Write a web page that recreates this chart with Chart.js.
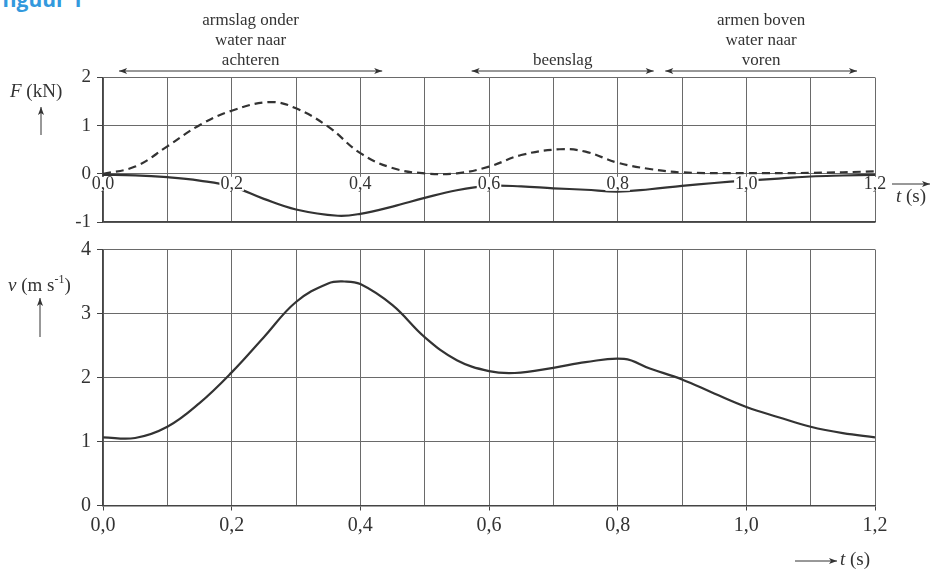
<!DOCTYPE html>
<html>
<head>
<meta charset="utf-8">
<script src="https://cdn.jsdelivr.net/npm/chart.js@4"></script>
<style>
  html, body { margin: 0; padding: 0; background: #fff; }
  body { width: 933px; height: 571px; position: relative; overflow: hidden; }
  canvas { position: absolute; left: 0; top: 0; }
  #fig { position: absolute; left: 2px; top: -15px; font: bold 21px "Open Sans", sans-serif; color: #3399dd; }
</style>
</head>
<body>
<div id="fig">figuur 1</div>
<canvas id="cForce" width="933" height="571"></canvas>
<canvas id="cSpeed" width="933" height="571"></canvas>
<script>
// ---- data ----
const forceUpperT = [0, 0.05, 0.1, 0.15, 0.2, 0.26, 0.3, 0.35, 0.4, 0.45, 0.5, 0.55, 0.6, 0.65, 0.71, 0.75, 0.8, 0.85, 0.9, 1.0, 1.1, 1.2];
const forceUpperV = [0, 0.15, 0.57, 1.01, 1.31, 1.49, 1.36, 0.98, 0.43, 0.12, 0.01, 0.01, 0.15, 0.39, 0.51, 0.46, 0.23, 0.10, 0.03, 0.015, 0.02, 0.05];

const forceLowerT = [0, 0.05, 0.1, 0.15, 0.2, 0.25, 0.3, 0.365, 0.4, 0.45, 0.5, 0.55, 0.6, 0.65, 0.7, 0.75, 0.8, 0.85, 0.9, 0.95, 1.0, 1.05, 1.1, 1.15, 1.2];
const forceLowerV = [-0.02, -0.03, -0.07, -0.14, -0.26, -0.52, -0.74, -0.87, -0.83, -0.68, -0.5, -0.34, -0.25, -0.26, -0.3, -0.33, -0.37, -0.32, -0.25, -0.19, -0.14, -0.1, -0.055, -0.035, -0.02];

const speedT = [0, 0.05, 0.1, 0.15, 0.2, 0.25, 0.3, 0.35, 0.375, 0.4, 0.45, 0.5, 0.55, 0.6, 0.64, 0.7, 0.75, 0.81, 0.85, 0.9, 0.95, 1.0, 1.05, 1.1, 1.15, 1.2];
const speedV = [1.065, 1.055, 1.23, 1.6, 2.08, 2.63, 3.18, 3.47, 3.5, 3.46, 3.13, 2.63, 2.27, 2.1, 2.07, 2.15, 2.24, 2.29, 2.14, 1.97, 1.75, 1.54, 1.38, 1.23, 1.13, 1.065];

const xTickValues = [0, 0.2, 0.4, 0.6, 0.8, 1.0, 1.2];
const xTickLabels = ["0,0", "0,2", "0,4", "0,6", "0,8", "1,0", "1,2"];

const phaseLabels = [["armslag onder", "water naar", "achteren"], ["beenslag"], ["armen boven", "water naar", "voren"]];
const phaseStart = [0.025, 0.573, 0.874];
const phaseEnd = [0.434, 0.856, 1.172];

// ---- helpers ----
const INK = "#333";
const GRID = "#6a6a6a";
const SERIF = '"Liberation Serif", "DejaVu Serif", serif';

function toPoints(ts, vs) {
  return ts.map((t, i) => ({ x: t, y: vs[i] }));
}

function arrowHead(ctx, x, y, angle, size) {
  ctx.save();
  ctx.translate(x, y);
  ctx.rotate(angle);
  ctx.beginPath();
  ctx.moveTo(0, 0);
  ctx.lineTo(-size, -size * 0.38);
  ctx.lineTo(-size * 0.75, 0);
  ctx.lineTo(-size, size * 0.38);
  ctx.closePath();
  ctx.fill();
  ctx.restore();
}

function arrow(ctx, x1, y1, x2, y2, both) {
  ctx.save();
  ctx.strokeStyle = INK;
  ctx.fillStyle = INK;
  ctx.lineWidth = 1;
  ctx.beginPath();
  ctx.moveTo(x1, y1);
  ctx.lineTo(x2, y2);
  ctx.stroke();
  const a = Math.atan2(y2 - y1, x2 - x1);
  arrowHead(ctx, x2, y2, a, 8);
  if (both) arrowHead(ctx, x1, y1, a + Math.PI, 8);
  ctx.restore();
}

function axisTitleT(ctx, x, y) {
  ctx.font = "italic 19px " + SERIF;
  ctx.fillText("t", x, y);
  const w = ctx.measureText("t ").width;
  ctx.font = "19px " + SERIF;
  ctx.fillText("(s)", x + w, y);
}

const isEven = (v) => Math.round(v * 10) % 2 === 0;
const isWhole = (v) => Math.abs(v - Math.round(v)) < 1e-6;

// ---- force panel decorations ----
const forceDecor = {
  id: "forceDecor",
  afterDatasetsDraw(chart) {
    const { ctx, scales } = chart;
    const x = scales.x, y = scales.y;
    ctx.save();
    ctx.fillStyle = INK;
    ctx.font = "18px " + SERIF;
    ctx.textAlign = "center";
    ctx.textBaseline = "middle";
    const ly = y.getPixelForValue(0) + 10;
    xTickValues.forEach((v, i) => {
      const px = x.getPixelForValue(v);
      const w = ctx.measureText(xTickLabels[i]).width;
      ctx.fillStyle = "#fff";
      ctx.fillRect(px - w / 2 - 1, ly - 7, w + 2, 14);
      ctx.fillStyle = INK;
      ctx.fillText(xTickLabels[i], px, ly);
    });

    // phase arrows on top
    const arrowY = chart.chartArea.top - 6.5;
    phaseLabels.forEach((lines, i) => {
      const a = x.getPixelForValue(phaseStart[i]);
      const b = x.getPixelForValue(phaseEnd[i]);
      arrow(ctx, a, arrowY, b, arrowY, true);
      ctx.fillStyle = INK;
      ctx.font = "17px " + SERIF;
      ctx.textAlign = "center";
      lines.forEach((s, k) => {
        ctx.fillText(s, (a + b) / 2, arrowY - 10 - (lines.length - 1 - k) * 20);
      });
    });

    // y title
    ctx.textAlign = "left";
    ctx.font = "italic 19px " + SERIF;
    ctx.fillText("F", 10, 92);
    const fw = ctx.measureText("F ").width;
    ctx.font = "19px " + SERIF;
    ctx.fillText("(kN)", 10 + fw, 92);
    arrow(ctx, 41, 135, 41, 107, false);

    // t axis title
    arrow(ctx, 892, 184, 930, 184, false);
    ctx.fillStyle = INK;
    ctx.textAlign = "left";
    axisTitleT(ctx, 896, 197);
    ctx.restore();
  }
};

// ---- speed panel decorations ----
const speedDecor = {
  id: "speedDecor",
  afterDraw(chart) {
    const { ctx } = chart;
    ctx.save();
    ctx.fillStyle = INK;
    ctx.textBaseline = "middle";
    ctx.textAlign = "left";
    let cx = 8;
    ctx.font = "italic 19px " + SERIF;
    ctx.fillText("v", cx, 286);
    cx += ctx.measureText("v ").width;
    ctx.font = "19px " + SERIF;
    ctx.fillText("(m s", cx, 286);
    cx += ctx.measureText("(m s").width;
    ctx.font = "12px " + SERIF;
    ctx.fillText("-1", cx, 280);
    cx += ctx.measureText("-1").width;
    ctx.font = "19px " + SERIF;
    ctx.fillText(")", cx, 286);
    arrow(ctx, 40, 337, 40, 298, false);

    arrow(ctx, 795, 561, 837, 561, false);
    ctx.fillStyle = INK;
    axisTitleT(ctx, 840, 560);
    ctx.restore();
  }
};

function lineSet(ts, vs, dash) {
  return {
    data: toPoints(ts, vs),
    borderColor: INK,
    borderWidth: 2.2,
    borderDash: dash,
    pointRadius: 0,
    tension: 0.4,
    fill: false
  };
}

// ---- force chart ----
new Chart(document.getElementById("cForce").getContext("2d"), {
  type: "line",
  data: {
    datasets: [
      lineSet(forceUpperT, forceUpperV, [8, 5]),
      lineSet(forceLowerT, forceLowerV, [])
    ]
  },
  options: {
    responsive: false,
    animation: false,
    events: [],
    layout: { padding: { left: 53, right: 58, top: 77.5, bottom: 349 } },
    plugins: { legend: { display: false }, tooltip: { enabled: false } },
    scales: {
      x: {
        type: "linear",
        min: 0,
        max: 1.2,
        ticks: { display: false, stepSize: 0.1 },
        grid: { color: GRID, lineWidth: 1, drawTicks: false },
        border: { color: "#444", width: 1.5 },
        afterFit: (s) => { s.height = 0; }
      },
      y: {
        min: -1,
        max: 2,
        ticks: {
          stepSize: 0.5,
          padding: 6,
          color: INK,
          font: { family: SERIF, size: 19 },
          callback: (v) => (isWhole(v) ? String(v) : "")
        },
        grid: {
          color: (c) => (isWhole(c.tick.value) ? GRID : "rgba(0,0,0,0)"),
          tickColor: "#444",
          tickLength: 6,
          lineWidth: 1
        },
        border: { color: "#444", width: 1.5 },
        afterFit: (s) => { s.width = 50; }
      }
    }
  },
  plugins: [forceDecor]
});

// ---- speed chart ----
new Chart(document.getElementById("cSpeed").getContext("2d"), {
  type: "line",
  data: { datasets: [lineSet(speedT, speedV, [])] },
  options: {
    responsive: false,
    animation: false,
    events: [],
    layout: { padding: { left: 53, right: 58, top: 249.5, bottom: 35.5 } },
    plugins: { legend: { display: false }, tooltip: { enabled: false } },
    scales: {
      x: {
        type: "linear",
        min: 0,
        max: 1.2,
        ticks: {
          stepSize: 0.1,
          padding: 3,
          maxRotation: 0,
          autoSkip: false,
          color: INK,
          font: { family: SERIF, size: 20 },
          callback: (v) => (isEven(v) ? v.toFixed(1).replace(".", ",") : "")
        },
        grid: {
          color: GRID,
          lineWidth: 1,
          tickLength: 5,
          tickColor: (c) => (isEven(c.tick.value) ? "#444" : "rgba(0,0,0,0)")
        },
        border: { color: "#444", width: 1.5 },
        afterFit: (s) => { s.height = 30; }
      },
      y: {
        min: 0,
        max: 4,
        ticks: {
          stepSize: 1,
          padding: 6,
          color: INK,
          font: { family: SERIF, size: 20 }
        },
        grid: { color: GRID, tickColor: "#444", tickLength: 6, lineWidth: 1 },
        border: { color: "#444", width: 1.5 },
        afterFit: (s) => { s.width = 50; }
      }
    }
  },
  plugins: [speedDecor]
});
</script>
</body>
</html>
